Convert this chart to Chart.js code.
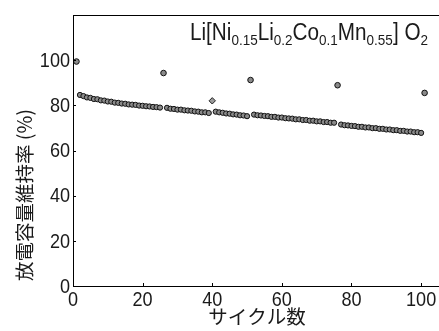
<!DOCTYPE html>
<html>
<head>
<meta charset="utf-8">
<script src="https://cdn.jsdelivr.net/npm/chart.js@4/dist/chart.umd.min.js"></script>
<style>
  html, body { margin: 0; padding: 0; background: #fff; overflow: hidden; }
  canvas { display: block; }
</style>
</head>
<body>
<canvas id="c" width="439" height="331"></canvas>
<script>
// Discharge capacity retention vs. cycle number
const mainCycles = [
  2,3,4,5,6,7,8,9,10,11,12,13,14,15,16,17,18,19,20,21,22,23,24,25,
  27,28,29,30,31,32,33,34,35,36,37,38,39,
  41,42,43,44,45,46,47,48,49,50,
  52,53,54,55,56,57,58,59,60,61,62,63,64,65,66,67,68,69,70,71,72,73,74,75,
  77,78,79,80,81,82,83,84,85,86,87,88,89,90,91,92,93,94,95,96,97,98,99,100
];
const mainRetention = [
  84.6,84.1,83.5,83.3,82.8,82.7,82.2,82.1,81.7,81.6,81.2,81.1,80.8,80.7,80.4,80.3,80.2,79.9,79.8,79.6,79.5,79.3,79.2,79.0,
  78.9,78.5,78.4,78.1,78.1,77.8,77.7,77.6,77.3,77.2,76.9,76.9,76.6,
  77.2,76.9,76.7,76.4,76.3,76.0,75.9,75.6,75.5,75.2,
  75.9,75.6,75.5,75.3,75.2,74.9,74.9,74.6,74.6,74.3,74.2,74.1,73.8,73.8,73.5,73.5,73.2,73.2,72.9,72.9,72.6,72.6,72.3,72.3,
  71.5,71.2,71.1,70.9,70.8,70.5,70.5,70.2,70.2,69.9,69.9,69.6,69.6,69.3,69.3,69.0,69.0,68.7,68.7,68.4,68.4,68.1,68.1,67.8
];
const highCycles = [1, 26, 51, 76, 101];
const highRetention = [99.4, 94.3, 91.2, 88.9, 85.5];
const checkCycles = [40];
const checkRetention = [82.0];

const xTicks = [0, 20, 40, 60, 80, 100];
const yTicks = [0, 20, 40, 60, 80, 100];

const compoundParts = [
  ['Li[Ni', false], ['0.15', true], ['Li', false], ['0.2', true], ['Co', false],
  ['0.1', true], ['Mn', false], ['0.55', true], ['] O', false], ['2', true]
];
const yTitle = '放電容量維持率 (%)';
const xTitle = 'サイクル数';

const latin = "'Liberation Sans', Arial, sans-serif";
const cjkFont = "'Noto Sans CJK JP', 'Noto Sans CJK SC', sans-serif";
const inkColor = '#1a1a1a';

const toPts = (xs, ys) => xs.map((x, i) => ({ x, y: ys[i] }));

// narrow text: horizontally squeezed glyphs
function narrowText(ctx, text, x, y, align, sx) {
  const w = ctx.measureText(text).width * sx;
  let left = x;
  if (align === 'right') left = x - w;
  else if (align === 'center') left = x - w / 2;
  ctx.save();
  ctx.translate(left, y);
  ctx.scale(sx, 1);
  ctx.textAlign = 'left';
  ctx.fillText(text, 0, 0);
  ctx.restore();
}

const decorations = {
  id: 'decorations',
  afterDraw(chart) {
    const ctx = chart.ctx;
    const area = chart.chartArea;
    const xs = chart.scales.x, ys = chart.scales.y;
    ctx.save();
    ctx.strokeStyle = '#000';
    ctx.lineWidth = 1;
    // axis frame: left, bottom, top
    ctx.beginPath();
    ctx.moveTo(area.left + 0.5, area.top + 0.5);
    ctx.lineTo(area.right + 5, area.top + 0.5);
    ctx.moveTo(area.left + 0.5, area.top);
    ctx.lineTo(area.left + 0.5, area.bottom + 0.5);
    ctx.lineTo(area.right + 5, area.bottom + 0.5);
    ctx.stroke();
    // inward tick marks
    ctx.beginPath();
    xTicks.forEach(v => {
      const px = Math.round(xs.getPixelForValue(v)) + 0.5;
      ctx.moveTo(px, area.bottom);
      ctx.lineTo(px, area.bottom - 3);
    });
    yTicks.forEach(v => {
      const py = Math.round(ys.getPixelForValue(v)) + 0.5;
      ctx.moveTo(area.left, py);
      ctx.lineTo(area.left + 3, py);
    });
    ctx.stroke();

    // tick labels
    ctx.fillStyle = inkColor;
    ctx.font = '21px ' + latin;
    ctx.textBaseline = 'middle';
    yTicks.forEach(v => narrowText(ctx, String(v), area.left - 3, ys.getPixelForValue(v) + 1, 'right', 0.86));
    xTicks.forEach(v => narrowText(ctx, String(v), xs.getPixelForValue(v), area.bottom + 14, 'center', 0.86));

    // compound label with subscripts
    ctx.textBaseline = 'alphabetic';
    const big = '23px ' + latin;
    const small = '15px ' + latin;
    let total = 0;
    compoundParts.forEach(([t, sub]) => { ctx.font = sub ? small : big; total += ctx.measureText(t).width; });
    const sx = 238 / total;
    let x = 190;
    const base = 40;
    compoundParts.forEach(([t, sub]) => {
      ctx.font = sub ? small : big;
      narrowText(ctx, t, x, sub ? base + 4.5 : base, 'left', sx);
      x += ctx.measureText(t).width * sx;
    });

    // axis titles
    ctx.font = '19.5px ' + cjkFont;
    ctx.textAlign = 'center';
    ctx.textBaseline = 'middle';
    ctx.fillText(xTitle, 257, 317);
    ctx.translate(25, 195);
    ctx.rotate(-Math.PI / 2);
    ctx.fillText(yTitle, 0, 0);
    ctx.restore();
  }
};

new Chart(document.getElementById('c'), {
  type: 'scatter',
  data: {
    datasets: [
      { data: toPts(mainCycles, mainRetention), pointStyle: 'circle', pointRadius: 2.6,
        backgroundColor: '#8a8a8a', borderColor: '#111', borderWidth: 1 },
      { data: toPts(highCycles, highRetention), pointStyle: 'circle', pointRadius: 2.8,
        backgroundColor: '#8a8a8a', borderColor: '#111', borderWidth: 1 },
      { data: toPts(checkCycles, checkRetention), pointStyle: 'rectRot', pointRadius: 3.2,
        backgroundColor: '#9a9a9a', borderColor: '#222', borderWidth: 1 }
    ]
  },
  options: {
    responsive: false,
    animation: false,
    devicePixelRatio: 1,
    layout: { padding: { top: 15, right: 0, left: 0, bottom: 0 } },
    plugins: { legend: { display: false }, tooltip: { enabled: false } },
    scales: {
      x: {
        type: 'linear', min: 0, max: 103.7,
        border: { display: false },
        grid: { display: false, drawTicks: false },
        ticks: { display: false },
        afterFit: s => { s.height = 45; }
      },
      y: {
        type: 'linear', min: 0, max: 120,
        border: { display: false },
        grid: { display: false, drawTicks: false },
        ticks: { display: false },
        afterFit: s => { s.width = 73; }
      }
    }
  },
  plugins: [decorations]
});
</script>
</body>
</html>
